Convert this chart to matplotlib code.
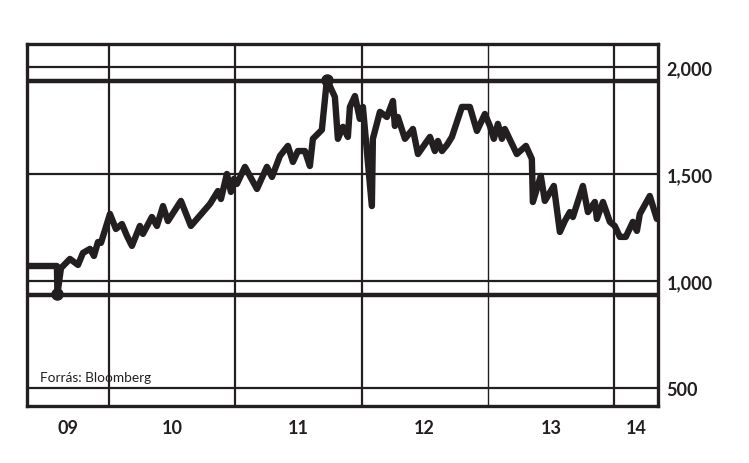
import matplotlib
matplotlib.use("Agg")
import matplotlib.pyplot as plt
import numpy as np

INK = '#231f20'

# time in decimal years, index values
years = [2009.351, 2009.588, 2009.592, 2009.620, 2009.691, 2009.755, 2009.794, 2009.850,
         2009.881, 2009.913, 2009.937, 2010.008, 2010.055, 2010.103, 2010.143, 2010.182,
         2010.245, 2010.269, 2010.340, 2010.380, 2010.428, 2010.467, 2010.570, 2010.649,
         2010.800, 2010.863, 2010.887, 2010.934, 2010.966, 2010.990, 2011.013, 2011.077,
         2011.172, 2011.251, 2011.291, 2011.354, 2011.417, 2011.457, 2011.496, 2011.552,
         2011.591, 2011.615, 2011.686, 2011.726, 2011.789, 2011.813, 2011.853, 2011.892,
         2011.908, 2011.948, 2011.987, 2012.011, 2012.082, 2012.090, 2012.146, 2012.201,
         2012.249, 2012.264, 2012.288, 2012.344, 2012.407, 2012.447, 2012.542, 2012.581,
         2012.605, 2012.637, 2012.676, 2012.716, 2012.795, 2012.858, 2012.914, 2012.977,
         2013.017, 2013.048, 2013.080, 2013.112, 2013.135, 2013.230, 2013.302, 2013.349,
         2013.357, 2013.420, 2013.452, 2013.523, 2013.571, 2013.610, 2013.650, 2013.674,
         2013.753, 2013.793, 2013.848, 2013.864, 2013.912, 2013.967, 2014.006, 2014.046,
         2014.093, 2014.149, 2014.181, 2014.204, 2014.283, 2014.339]
values = [1070, 1070, 940, 1060, 1103, 1075, 1131, 1150,
          1117, 1182, 1178, 1313, 1243, 1266, 1210, 1164,
          1257, 1220, 1299, 1257, 1350, 1280, 1374, 1257,
          1360, 1420, 1383, 1500, 1416, 1477, 1453, 1533,
          1430, 1533, 1486, 1584, 1631, 1556, 1607, 1607,
          1537, 1664, 1706, 1940, 1860, 1664, 1720, 1673,
          1813, 1864, 1757, 1813, 1350, 1664, 1790, 1766,
          1841, 1724, 1766, 1664, 1710, 1593, 1673, 1607,
          1654, 1607, 1635, 1673, 1813, 1813, 1701, 1780,
          1724, 1664, 1734, 1664, 1710, 1593, 1631, 1570,
          1369, 1491, 1374, 1444, 1229, 1280, 1322, 1299,
          1444, 1322, 1369, 1290, 1369, 1276, 1257, 1206,
          1206, 1276, 1234, 1313, 1397, 1290]

y_ticks = [500, 1000, 1500, 2000]
y_tick_labels = ['500', '1,000', '1,500', '2,000']
year_bounds = [2010, 2011, 2012, 2013, 2014]
year_labels = ['09', '10', '11', '12', '13', '14']
low_line = 935
high_line = 1935

x0, x1 = 2009.351, 2014.348

fig = plt.figure(figsize=(7.49, 4.64), dpi=100)
ax = fig.add_axes([27 / 749, 1 - 407 / 464, (658 - 27) / 749, (407 - 45) / 464])
ax.set_xlim(x0, x1)
ax.set_ylim(416, 2107)

# grid
for v in y_ticks:
    ax.axhline(v, color=INK, lw=1.6, zorder=1)
for v in (low_line, high_line):
    ax.axhline(v, color=INK, lw=3.2, zorder=1)
for b in year_bounds:
    ax.axvline(b, color=INK, lw=1.0 if b == 2013 else 1.6, zorder=1)

ax.plot(years, values, color=INK, lw=4.6, solid_joinstyle='round',
        solid_capstyle='round', zorder=3)
i_min = int(np.argmin(values))
i_max = int(np.argmax(values))
ax.plot([years[i_min], years[i_max]], [values[i_min], values[i_max]], 'o',
        color=INK, ms=8, zorder=4)

for s in ax.spines.values():
    s.set_linewidth(2.4)
    s.set_color(INK)

ax.yaxis.tick_right()
ax.set_yticks(y_ticks)
ax.set_yticklabels(y_tick_labels, fontsize=13, fontweight='bold', family='Lato', color=INK)
ax.tick_params(axis='y', length=0, pad=6)

edges = [x0] + year_bounds + [x1]
centers = [(edges[i] + edges[i + 1]) / 2 for i in range(len(edges) - 1)]
ax.set_xticks(centers)
ax.set_xticklabels(year_labels, fontsize=13, fontweight='bold', family='Lato', color=INK)
ax.tick_params(axis='x', length=0, pad=9)

ax.text(0.02, 0.07, 'Forrás: Bloomberg', transform=ax.transAxes, fontsize=9.8,
        family='Lato', color=INK)

fig.savefig('out.png', dpi=100)
